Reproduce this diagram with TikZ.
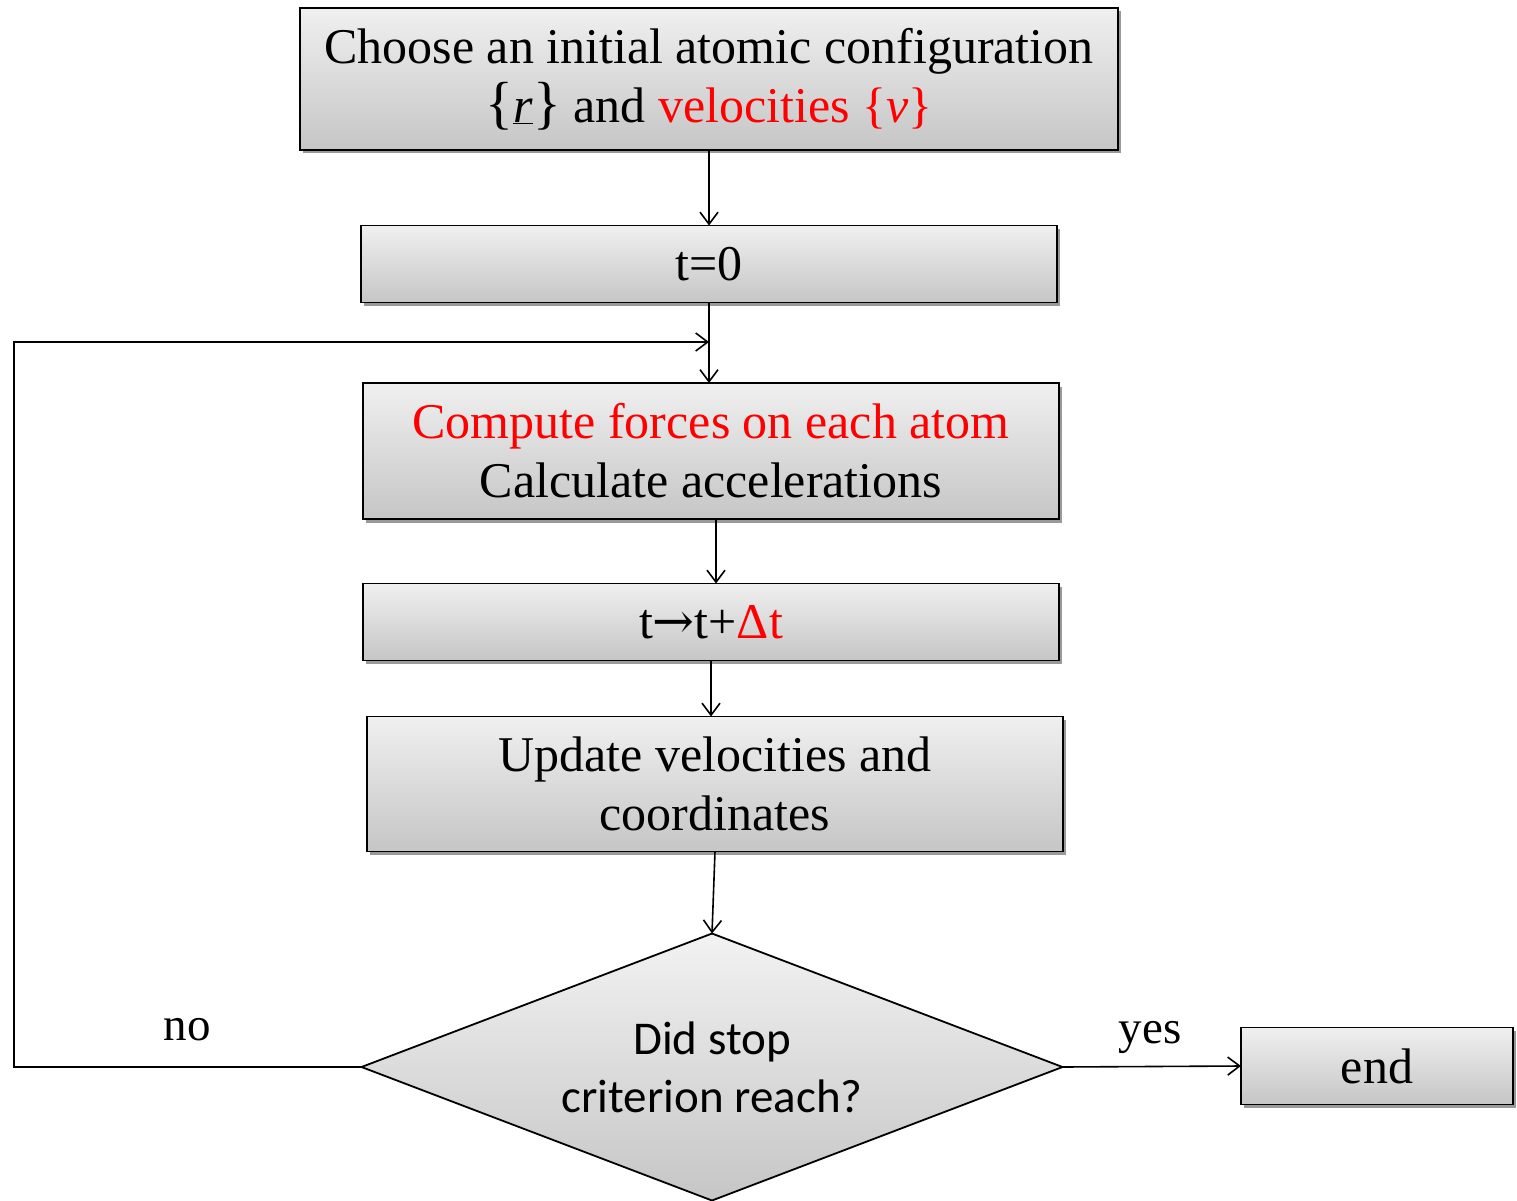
\documentclass[tikz,border=0pt]{standalone}
\usepackage{fontspec}
\setmainfont{Liberation Serif}
\newfontfamily\calib{Carlito}
\newfontfamily\symf{DejaVu Serif}
\usetikzlibrary{arrows.meta,shapes.geometric,shadows}
\newcommand{\bigbr}[1]{{\fontsize{58}{59}\selectfont #1}}
\begin{document}
\begin{tikzpicture}[x=1pt,y=-1pt,
  box/.style={draw=black, line width=1.8pt, top color=gray!12, bottom color=gray!45,
    drop shadow={shadow xshift=2.5pt, shadow yshift=-3.5pt, opacity=0.4, fill=black},
    inner sep=0pt, outer sep=0pt, align=center, font=\fontsize{50}{59}\selectfont},
  dia/.style={draw=black, line width=1.8pt, diamond, top color=gray!10, bottom color=gray!45,
    inner sep=0pt, outer sep=0pt, minimum width=701pt, minimum height=267pt, aspect=2.62,
    align=center, font=\calib\fontsize{47}{58}\selectfont},
  lbl/.style={font=\fontsize{47}{52}\selectfont, inner sep=0pt},
  arr/.style={line width=1.6pt, -{Straight Barb[length=12pt,width=18pt,line width=1.6pt]}}
]
\useasboundingbox (0,0) rectangle (1517,1201);
\node[box, minimum width=818pt, minimum height=142pt] (b1) at (709,79)
  {Choose an initial atomic configuration\\
   \bigbr{\{}\underline{\textit{r}}\bigbr{\}} and \textcolor{red}{velocities \{\textit{v}\}}};
\node[box, minimum width=696pt, minimum height=77pt] (b2) at (709,264) {t=0};
\node[box, minimum width=696pt, minimum height=136pt] (b3) at (711,451)
  {\textcolor{red}{Compute forces on each atom}\\Calculate accelerations};
\node[box, minimum width=696pt, minimum height=77pt] (b4) at (711,622)
  {t{\symf →}t+\textcolor{red}{Δt}};
\node[box, minimum width=696pt, minimum height=135pt] (b5) at (715,784)
  {Update velocities and\\coordinates};
\node[dia] (d) at (712,1067) {Did stop\\criterion reach?};
\node[box, minimum width=272pt, minimum height=77pt] (e) at (1377,1066) {end};
\node[lbl] (no) at (187,1030) {no};
\node[lbl] (yes) at (1150,1037) {yes};

\coordinate (j) at (709,342);
\coordinate (c1) at (14,1067);
\coordinate (c2) at (14,342);
\draw[arr] (b1.south) -- (b2.north);
\draw[arr] (b2.south) -- (b3.north -| b2.south);
\draw[arr] ([xshift=5pt]b3.south) -- ([xshift=5pt]b4.north);
\draw[arr] (b4.south) -- (b5.north -| b4.south);
\draw[arr] (b5.south) -- (d.north);
\draw[arr] (d.east) -- (e.west);
\draw[arr] (d.west) -- (c1) -- (c2) -- (j);
\end{tikzpicture}
\end{document}
